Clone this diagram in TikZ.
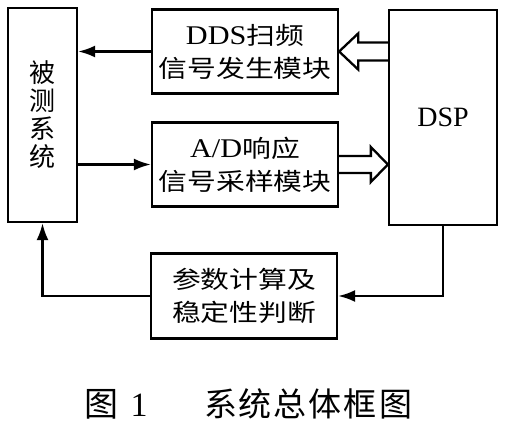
\documentclass[tikz,border=0pt]{standalone}
\usepackage{fontspec}
\setmainfont{Liberation Serif}
\newfontfamily\cjk[FakeStretch=1.2]{Noto Sans CJK SC}
\newfontfamily\cjkn{Noto Sans CJK SC}
\newfontfamily\latw[FakeStretch=1.12]{Liberation Serif}
\usetikzlibrary{arrows.meta,calc}
\tikzset{
  blk/.style={draw,line width=2.3pt,inner sep=0pt,align=center,font=\cjk\fontsize{24}{33}\selectfont},
  arr/.style={line width=2.3pt,-{Latex[length=17pt,width=12pt]}},
  hollow/.style={line width=2.3pt,line join=miter},
}
\begin{document}
\begin{tikzpicture}[x=1pt,y=-1pt]
\useasboundingbox (0,0) rectangle (508,436);
\node[blk,minimum width=69pt,minimum height=214pt,font=\cjkn\fontsize{26}{28}\selectfont] (sys) at (42.5,115) {被\\测\\系\\统};
\node[blk,minimum width=186pt,minimum height=84pt] (dds) at (245,51.5) {{\latw\fontsize{27}{33}\selectfont DDS}扫频\\信号发生模块};
\node[blk,minimum width=186pt,minimum height=84pt] (ad) at (245,164.5) {{\latw\fontsize{27}{33}\selectfont A/D}响应\\信号采样模块};
\node[blk,minimum width=108pt,minimum height=215pt,font=\rmfamily\fontsize{28}{30}\selectfont] (dsp) at (443,117.5) {DSP};
\node[blk,minimum width=186pt,minimum height=85pt] (calc) at (244,296) {参数计算及\\稳定性判断};
\draw[arr] (dds.west) -- (dds.west -| sys.east);
\draw[arr] (sys.east |- ad.west) -- (ad.west);
\draw[hollow] ($(dsp.west |- dds.east)+(0,-9)$) -- ($(dds.east)+(19,-9)$) -- ($(dds.east)+(19,-18)$) -- (dds.east) -- ($(dds.east)+(19,18)$) -- ($(dds.east)+(19,9)$) -- ($(dsp.west |- dds.east)+(0,9)$);
\draw[hollow] ($(ad.east)+(0,-8.5)$) -- ($(dsp.west |- ad.east)+(-17,-8.5)$) -- ($(dsp.west |- ad.east)+(-17,-17.5)$) -- (dsp.west |- ad.east) -- ($(dsp.west |- ad.east)+(-17,17.5)$) -- ($(dsp.west |- ad.east)+(-17,8.5)$) -- ($(ad.east)+(0,8.5)$);
\draw[arr] (dsp.south) |- (calc.east);
\draw[arr] (calc.west) -| (sys.south);
\node[inner sep=0pt] (cap1) at (116,404) {\cjkn\fontsize{34}{34}\selectfont 图\hspace{12pt}{\rmfamily 1}};
\node[inner sep=0pt] (cap2) at (308,404) {\cjkn\fontsize{33}{34}\selectfont 系\hspace{2pt}统\hspace{2pt}总\hspace{2pt}体\hspace{2pt}框\hspace{2pt}图};
\end{tikzpicture}
\end{document}
